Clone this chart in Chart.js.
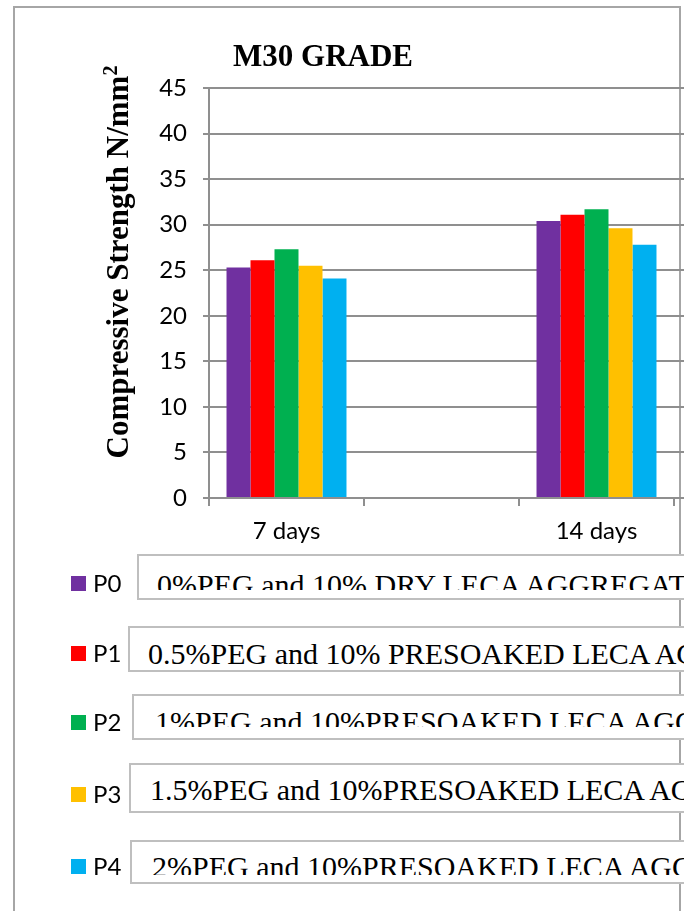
<!DOCTYPE html>
<html>
<head>
<meta charset="utf-8">
<title>M30 GRADE</title>
<script src="https://cdn.jsdelivr.net/npm/chart.js@4.4.0/dist/chart.umd.min.js"></script>
<style>
  body { margin: 0; width: 684px; height: 911px; overflow: hidden; background: #fff; position: relative; font-family: Lato, sans-serif; }
  #frame { position: absolute; left: 13px; top: 6px; width: 664px; height: 920px; border: 2px solid #a6a6a6; border-bottom: none; }
  #wrap { position: absolute; left: 0; top: 0; width: 1000px; height: 560px; }
  #title { position: absolute; left: 323px; top: 38px; transform: translateX(-50%); font: bold 31px "Liberation Serif", serif; white-space: nowrap; }
  #ytitle { position: absolute; left: 118px; top: 262px; transform: translate(-50%, -50%) rotate(-90deg); font: bold 31px "Liberation Serif", serif; white-space: nowrap; }
  #ytitle sup { font-size: 20px; vertical-align: 11px; line-height: 0; }
  .sq { position: absolute; width: 15px; height: 15px; }
  .lab { position: absolute; font-size: 24px; line-height: 24px; color: #000; }
  .box { position: absolute; border: 2px solid #bfbfbf; background: #fff; overflow: hidden; }
  .clip { position: absolute; overflow: hidden; left: 0; right: 0; }
  .txt { position: absolute; font: 30px "Liberation Serif", serif; line-height: 30px; white-space: nowrap; color: #000; }
</style>
</head>
<body>
<div id="frame"></div>
<div id="wrap"><canvas id="chart"></canvas></div>
<div id="title">M30 GRADE</div>
<div id="ytitle">Compressive Strength N/mm<sup>2</sup></div>
<div id="legend"></div>
<script>
// data
const categories = ["7 days", "", "14 days", ""];
const seriesNames = ["P0", "P1", "P2", "P3", "P4"];
const p0 = [25.3, null, 30.4, null];
const p1 = [26.1, null, 31.1, null];
const p2 = [27.3, null, 31.7, null];
const p3 = [25.5, null, 29.6, null];
const p4 = [24.1, null, 27.8, null];
const descriptions = [
    "0%PEG and 10%  DRY  LECA AGGREGATE",
    "0.5%PEG and 10%  PRESOAKED LECA AGGREGATE",
    "1%PEG and 10%PRESOAKED LECA AGGREGATE",
    "1.5%PEG and 10%PRESOAKED LECA AGGREGATE",
    "2%PEG and 10%PRESOAKED LECA AGGREGATE"
];
const yTicks = { min: 0, max: 45, step: 5 };

const colors = ["#7030A0", "#FF0000", "#00B050", "#FFC000", "#00B0F0"];
const gridColor = "#8f8f8f";

// legend rows + the text boxes next to them (box top/bottom, cap top of text, clip line)
const rows = [
    { y: 583, boxL: 137, boxT: 554, boxB: 600, txtL: 157, cap: 575, clip: 590 },
    { y: 653, boxL: 128, boxT: 626, boxB: 672, txtL: 148, cap: 644, clip: 664 },
    { y: 722, boxL: 132, boxT: 694, boxB: 740, txtL: 155, cap: 712, clip: 727 },
    { y: 794, boxL: 129, boxT: 763, boxB: 813, txtL: 150, cap: 780, clip: 806 },
    { y: 866, boxL: 130, boxT: 840, boxB: 884, txtL: 152, cap: 857, clip: 875 }
];

const legend = document.getElementById("legend");
for (var i = 0; i < rows.length; i++) {
    var r = rows[i];
    var sq = document.createElement("div");
    sq.className = "sq";
    sq.style.left = "71px";
    sq.style.top = (r.y - 7) + "px";
    sq.style.background = colors[i];
    legend.appendChild(sq);

    var lab = document.createElement("div");
    lab.className = "lab";
    lab.style.left = "93px";
    lab.style.top = (r.y - 12) + "px";
    lab.textContent = seriesNames[i];
    legend.appendChild(lab);

    var box = document.createElement("div");
    box.className = "box";
    box.style.left = r.boxL + "px";
    box.style.top = r.boxT + "px";
    box.style.width = (700 - r.boxL) + "px";
    box.style.height = (r.boxB - r.boxT - 4) + "px";
    var lineTop = r.cap - 5 - r.boxT - 2;
    var clip = document.createElement("div");
    clip.className = "clip";
    clip.style.top = "0px";
    clip.style.height = (r.clip - r.boxT - 2) + "px";
    var t = document.createElement("div");
    t.className = "txt";
    t.style.left = (r.txtL - r.boxL - 2) + "px";
    t.style.top = lineTop + "px";
    t.textContent = descriptions[i];
    clip.appendChild(t);
    box.appendChild(clip);
    legend.appendChild(box);
}

const seriesData = [p0, p1, p2, p3, p4];
const datasets = [];
for (var k = 0; k < seriesNames.length; k++) {
    datasets.push({
        label: seriesNames[k],
        data: seriesData[k],
        backgroundColor: colors[k],
        borderWidth: 0,
        categoryPercentage: 0.774,
        barPercentage: 1.0
    });
}

new Chart(document.getElementById("chart"), {
    type: "bar",
    data: { labels: categories, datasets: datasets },
    options: {
        responsive: true,
        maintainAspectRatio: false,
        animation: false,
        layout: { padding: { top: 88, left: 0, right: 171, bottom: 0 } },
        plugins: { legend: { display: false }, title: { display: false }, tooltip: { enabled: false } },
        scales: {
            x: {
                grid: { display: true, drawOnChartArea: false, drawTicks: true, tickLength: 8, color: gridColor, lineWidth: 2 },
                border: { display: true, color: gridColor, width: 2 },
                ticks: { color: "#000", font: { family: "Lato", size: 24 }, padding: 11, autoSkip: false, maxRotation: 0 },
                afterFit: function(scale) { scale.height = 62; }
            },
            y: {
                min: yTicks.min,
                max: yTicks.max,
                grid: { color: gridColor, lineWidth: 2, tickLength: 6 },
                border: { display: true, color: gridColor, width: 2 },
                ticks: { stepSize: yTicks.step, color: "#000", font: { family: "Lato", size: 24 }, padding: 16 },
                afterFit: function(scale) { scale.width = 209; }
            }
        }
    }
});
</script>
</body>
</html>
